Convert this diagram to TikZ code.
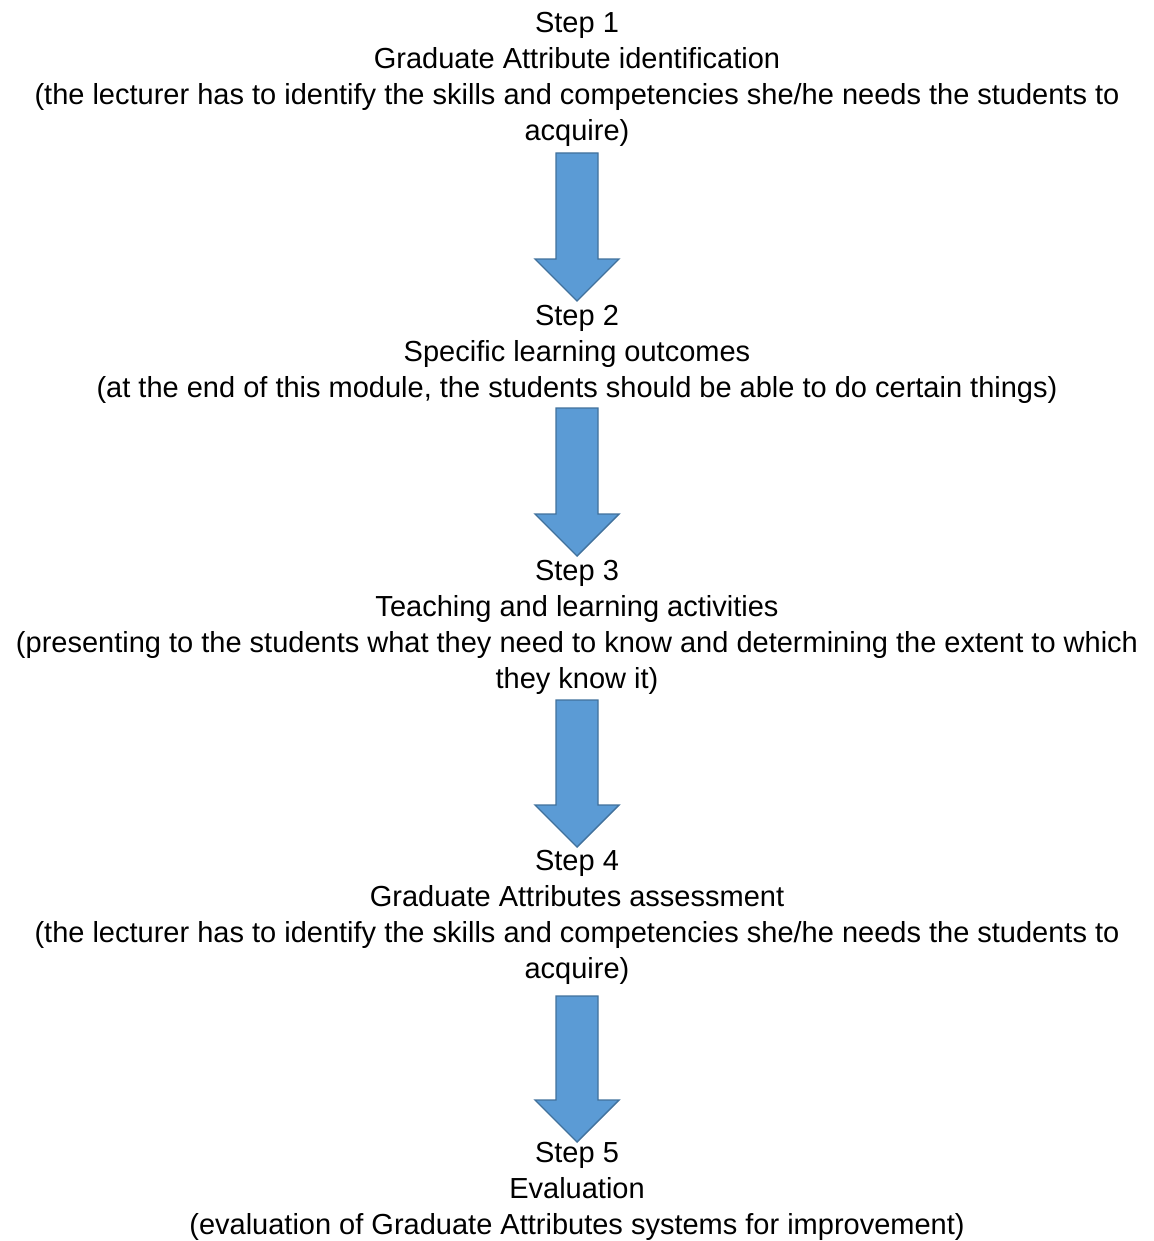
\documentclass[tikz,border=0pt]{standalone}
\usepackage{fontspec}
\setmainfont{Liberation Sans}
\usetikzlibrary{calc}
\definecolor{arrfill}{HTML}{5B9BD5}
\definecolor{arredge}{HTML}{41719C}
\begin{document}
\begin{tikzpicture}[x=1pt,y=-1pt,
  txt/.style={anchor=base,inner sep=0pt,font=\fontsize{29}{36}\selectfont},
  blockarr/.style={fill=arrfill,draw=arredge,line width=1.4pt,line join=miter}]
\useasboundingbox (0,0) rectangle (1153,1241);
% Step 1
\node[txt] (s1a) at (577,33) {Step 1};
\node[txt] (s1b) at (577,69) {Graduate Attribute identification};
\node[txt] (s1c) at (577,105) {(the lecturer has to identify the skills and competencies she/he needs the students to};
\node[txt] (s1d) at (577,141) {acquire)};
% Step 2
\node[txt] (s2a) at (577,325) {Step 2};
\node[txt] (s2b) at (577,361) {Specific learning outcomes};
\node[txt] (s2c) at (577,397) {(at the end of this module, the students should be able to do certain things)};
% Step 3
\node[txt] (s3a) at (577,580) {Step 3};
\node[txt] (s3b) at (577,616) {Teaching and learning activities};
\node[txt] (s3c) at (577,652) {(presenting to the students what they need to know and determining the extent to which};
\node[txt] (s3d) at (577,688) {they know it)};
% Step 4
\node[txt] (s4a) at (577,870) {Step 4};
\node[txt] (s4b) at (577,906) {Graduate Attributes assessment};
\node[txt] (s4c) at (577,942) {(the lecturer has to identify the skills and competencies she/he needs the students to};
\node[txt] (s4d) at (577,978) {acquire)};
% Step 5
\node[txt] (s5a) at (577,1162) {Step 5};
\node[txt] (s5b) at (577,1198) {Evaluation};
\node[txt] (s5c) at (577,1234) {(evaluation of Graduate Attributes systems for improvement)};
% block arrows: top and tip coordinates
\coordinate (a1t) at (577,153); \coordinate (a1h) at (577,301);
\coordinate (a2t) at (577,408); \coordinate (a2h) at (577,556);
\coordinate (a3t) at (577,700); \coordinate (a3h) at (577,847);
\coordinate (a4t) at (577,996); \coordinate (a4h) at (577,1142);
\foreach \i in {1,2,3,4}{
  \draw[blockarr] ($(a\i t)+(-21,0)$) -- ($(a\i t)+(21,0)$) -- ($(a\i h)+(21,-42)$) -- ($(a\i h)+(42,-42)$)
    -- (a\i h) -- ($(a\i h)+(-42,-42)$) -- ($(a\i h)+(-21,-42)$) -- cycle;
}
\end{tikzpicture}
\end{document}
